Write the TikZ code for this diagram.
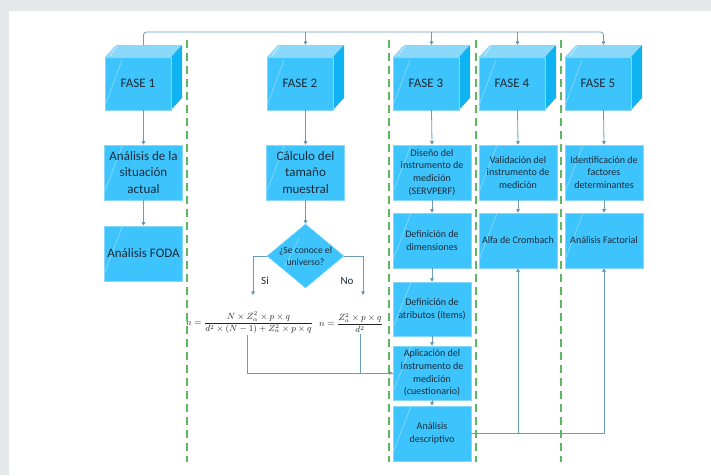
\documentclass[tikz,border=0pt]{standalone}
\usepackage{fontspec}
\setmainfont{Carlito}
\usetikzlibrary{arrows.meta,shapes.geometric,calc}

\definecolor{bgray}{HTML}{E6E7E9}
\definecolor{boxfill}{HTML}{3EC4FC}
\definecolor{boxedge}{HTML}{86D8FB}
\definecolor{cubetopc}{HTML}{8AD9FB}
\definecolor{cuberight}{HTML}{0FB3F2}
\definecolor{txt}{HTML}{1B2A38}
\definecolor{linec}{HTML}{6A9CBA}
\definecolor{tipc}{HTML}{2F6990}
\definecolor{sepc}{HTML}{5DB85F}
\definecolor{glossc}{HTML}{8EDCFD}

% one phase cube: #1 name, #2 left x of the front face, #3 label
\newcommand\fasecube[3]{%
  \fill[cubetopc] (#2,57) -- (#2+11,45) -- (#2+77,45) -- (#2+66,57) -- cycle;
  \fill[cuberight] (#2+66,57) -- (#2+77,45) -- (#2+77,98) -- (#2+66,110) -- cycle;
  \fill[boxfill] (#2,57) rectangle (#2+66,110);
  \draw[glossc, line width=0.6pt] (#2+1,103) -- (#2+17,60);
  \draw[white!60!cubetopc, line width=0.6pt] (#2+5,56) -- (#2+12,46);
  \draw[boxedge, line width=0.4pt] (#2,57) rectangle (#2+66,110);
  \node[cubeshape] (#1) at (#2+38.5,77.5) {};
  \node[cubetext] (#1t) at (#2+33,83.5) {#3};
}

\begin{document}
\begin{tikzpicture}[x=1pt,y=-1pt,
  stepbox/.style={draw=boxedge, line width=0.5pt, fill=boxfill, text=txt,
    align=center, inner sep=1pt, minimum width=78, minimum height=55,
    path picture={\draw[glossc, line width=0.6pt]
      ([yshift=8]path picture bounding box.south west) --
      ([xshift=18]path picture bounding box.north west);}},
  bigtext/.style={font=\fontsize{13}{16.5}\selectfont},
  smalltext/.style={font=\fontsize{10}{12.8}\selectfont},
  cubeshape/.style={inner sep=0, outer sep=0, minimum width=77, minimum height=65},
  cubetext/.style={text=txt, font=\fontsize{13}{15}\selectfont},
  decision/.style={diamond, draw=boxedge, line width=0.5pt, fill=boxfill,
    inner sep=0, minimum width=77, minimum height=64,
    path picture={\draw[glossc, line width=0.6pt]
      ([xshift=18,yshift=22]path picture bounding box.south west) --
      ([xshift=32,yshift=-14]path picture bounding box.north west);}},
  conn/.style={draw=linec, line width=0.8pt, -{Triangle[length=3.6pt,width=3.6pt,fill=tipc]}},
  plain/.style={draw=linec, line width=0.8pt},
  sepline/.style={draw=sepc, line width=1.1pt, dash pattern=on 8pt off 5pt},
  lbl/.style={text=txt, font=\fontsize{11}{13}\selectfont},
  formula/.style={text=black!85, font=\fontsize{9}{11}\selectfont, inner sep=1pt}
]
\useasboundingbox (0,0) rectangle (711,475);
\fill[bgray] (0,0) rectangle (711,475);
\fill[white] (9,11) rectangle (711,475);

% column separators
\foreach \x in {187,389,476,561} \draw[sepline] (\x,40) -- (\x,462);

% phases
\fasecube{f1}{105}{FASE 1}
\fasecube{f2}{267}{FASE 2}
\fasecube{f3}{393}{FASE 3}
\fasecube{f4}{479}{FASE 4}
\fasecube{f5}{565}{FASE 5}

% phase 1
\node[stepbox, bigtext] (b11) at (143.5,172.5) {Análisis de la\\situación\\actual};
\node[stepbox, bigtext] (b12) at (143.5,253.5) {Análisis FODA};

% phase 2
\node[stepbox, bigtext] (b21) at (305.5,172.5) {Cálculo del\\tamaño\\muestral};
\node[decision] (d2) at (305.5,256) {};
\node[text=txt, align=center, font=\fontsize{9.6}{12}\selectfont] (d2t) at (305.5,256) {¿Se conoce el\\universo?};
\node[lbl] (si) at (265,281) {Si};
\node[lbl] (no) at (347,281) {No};
\coordinate (sl) at (253,295);
\coordinate (sr) at (363,295);
\node[formula] (fl) at (249.5,323)
  {$n=\displaystyle\frac{N\times Z_\alpha^2\times p\times q}{d^2\times(N-1)+Z_\alpha^2\times p\times q}$};
\node[formula] (fr) at (351,323)
  {$n=\displaystyle\frac{Z_\alpha^2\times p\times q}{d^2}$};

% phase 3
\node[stepbox, smalltext] (b31) at (432,172.5) {Diseño del\\instrumento de\\medición\\(SERVPERF)};
\node[stepbox, smalltext] (b32) at (432,240.5) {Definición de\\dimensiones};
\node[stepbox, smalltext, minimum height=54] (b33) at (432,309) {Definición de\\atributos (ítems)};
\node[stepbox, smalltext, minimum height=54] (b34) at (432,373) {Aplicación del\\instrumento de\\medición\\(cuestionario)};
\node[stepbox, smalltext] (b35) at (432,433.5) {Análisis\\descriptivo};

% phase 4
\node[stepbox, smalltext] (b41) at (518,172.5) {Validación del\\instrumento de\\medición};
\node[stepbox, smalltext] (b42) at (518,240.5) {Alfa de Crombach};

% phase 5
\node[stepbox, smalltext] (b51) at (604,172.5) {Identificación de\\factores\\determinantes};
\node[stepbox, smalltext] (b52) at (604,240.5) {Análisis Factorial};

% bus over the phases
\coordinate (bus) at (0,32);
\draw[conn, rounded corners=3] (f1.north) -- (f1.north |- bus) -- (f5.north |- bus) -- (f5.north);
\foreach \n in {f2,f3,f4} \draw[conn] (\n.north |- bus) -- (\n.north);

% vertical flows
\foreach \a/\b in {f1/b11, b11/b12, f2/b21, b21/d2, f3/b31, b31/b32, b32/b33, b33/b34, b34/b35,
                   f4/b41, b41/b42, f5/b51, b51/b52}
  \draw[conn] (\a.south) -- (\b.north);

% decision branches
\draw[conn] (d2.west) -| (sl);
\draw[conn] (d2.east) -| (sr);

% formulas into the application of the instrument
\draw[conn] ([xshift=-2.5]fl.south) |- (b34.west);
\draw[plain] ([xshift=9]fr.south) |- (b34.west);

% descriptive analysis feeding phases 4 and 5
\draw[conn] (b35.east) -| (b42.south);
\draw[conn] (b35.east) -| (b52.south);
\end{tikzpicture}
\end{document}
